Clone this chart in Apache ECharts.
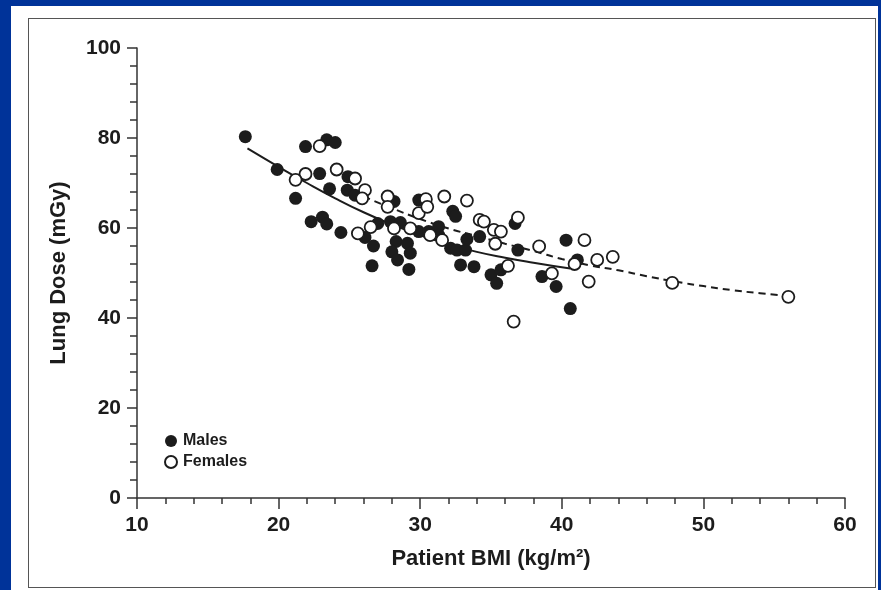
<!DOCTYPE html>
<html>
<head>
<meta charset="utf-8">
<script src="https://cdn.jsdelivr.net/npm/echarts@6/dist/echarts.min.js"></script>
<style>
  html, body { margin: 0; padding: 0; background: #003399; }
  #sheet { position: absolute; left: 11px; top: 6px; width: 867px; height: 584px; background: #fff; }
  #frame { position: absolute; left: 28px; top: 18px; width: 846px; height: 568px; border: 1.5px solid #555; }
  #main { position: absolute; left: 0; top: 0; width: 881px; height: 590px; }
</style>
</head>
<body>
<div id="sheet"></div>
<div id="frame"></div>
<div id="main"></div>
<script>
// BMI (kg/m2) vs lung dose (mGy)
const males = [
  [17.65, 80.3], [21.9, 78.1], [23.4, 79.6], [24.0, 79.0], [19.9, 73.0],
  [22.9, 72.1], [21.2, 66.6], [23.6, 68.7], [24.9, 71.4], [24.85, 68.4],
  [25.4, 67.3], [22.3, 61.4], [23.1, 62.4], [23.4, 60.9], [24.4, 59.0],
  [26.1, 57.9], [27.0, 61.0], [26.7, 56.0], [26.6, 51.6], [28.15, 65.9],
  [29.9, 66.2], [32.3, 63.7], [32.5, 62.6], [36.7, 61.0], [27.9, 61.4],
  [28.6, 61.2], [28.3, 57.0], [29.1, 56.6], [28.0, 54.7], [28.4, 52.9],
  [29.3, 54.4], [29.2, 50.8], [29.9, 59.2], [30.6, 59.2], [31.3, 60.3],
  [31.3, 58.4], [32.15, 55.5], [32.6, 55.1], [33.2, 55.1], [33.3, 57.5],
  [34.2, 58.1], [32.85, 51.8], [33.8, 51.4], [35.0, 49.6], [35.4, 47.7],
  [35.7, 50.7], [36.9, 55.1], [40.3, 57.3], [41.1, 52.9], [38.6, 49.2],
  [39.6, 47.0], [40.6, 42.1]
];
const females = [
  [22.9, 78.2], [21.9, 72.0], [21.2, 70.7], [24.1, 73.0], [25.4, 71.0],
  [26.1, 68.4], [25.9, 66.6], [25.6, 58.8], [26.5, 60.2], [27.7, 67.0],
  [27.7, 64.7], [30.4, 66.4], [31.7, 67.0], [33.3, 66.1], [29.9, 63.3],
  [30.5, 64.7], [34.2, 61.8], [34.5, 61.4], [35.2, 59.6], [35.7, 59.2],
  [36.9, 62.3], [28.15, 59.9], [29.3, 59.9], [30.7, 58.4], [31.55, 57.3],
  [36.2, 51.6], [36.6, 39.2], [38.4, 55.9], [41.6, 57.3], [40.9, 52.0],
  [42.5, 52.9], [43.6, 53.6], [39.3, 49.9], [41.9, 48.1], [47.8, 47.8],
  [56.0, 44.7], [35.3, 56.5]
];
// fitted curves as drawn in the figure
const maleFit = [
  [17.8, 77.7], [20, 73.6], [22, 70.0], [24, 66.6], [26, 63.5], [28, 60.8],
  [30, 58.4], [32, 56.4], [34, 54.7], [36, 53.4], [38, 52.3], [40.6, 51.0]
];
const femaleFit = [
  [26, 67.0], [28, 64.4], [30, 62.0], [32, 59.9], [34, 58.2], [36, 56.5],
  [38, 54.9], [40, 53.1], [42, 51.7], [44, 50.6], [46, 49.3], [48, 48.1],
  [50, 47.1], [52, 46.2], [54, 45.5], [56, 44.9]
];
const xTicks = { min: 10, max: 60, step: 10 };
const yTicks = { min: 0, max: 100, step: 20 };

const ink = '#1c1c1c';
const font = '"Liberation Sans", Arial, sans-serif';

let chart = echarts.init(document.getElementById('main'), null, { renderer: 'canvas' });

const option = {
  animation: false,
  grid: { left: 137, right: 36, top: 48, bottom: 92 },
  legend: {
    orient: 'vertical',
    left: 159,
    top: 428,
    itemWidth: 12,
    itemHeight: 12,
    itemGap: 5,
    textStyle: { fontFamily: font, fontWeight: 'bold', fontSize: 16, color: ink, lineHeight: 16, padding: [0, 0, 0, 1] },
    data: ['Males', 'Females']
  },
  xAxis: {
    type: 'value',
    min: xTicks.min,
    max: xTicks.max,
    interval: xTicks.step,
    name: 'Patient BMI (kg/m²)',
    nameLocation: 'middle',
    nameGap: 50,
    nameTextStyle: { fontFamily: font, fontWeight: 'bold', fontSize: 22, color: ink },
    axisLine: { lineStyle: { color: '#333', width: 1.5 } },
    axisTick: { length: 11, lineStyle: { color: '#333', width: 1.5 } },
    minorTick: { show: true, splitNumber: 5, length: 6, lineStyle: { color: '#333', width: 1.5 } },
    axisLabel: { margin: 17, fontFamily: font, fontWeight: 'bold', fontSize: 21, color: ink },
    splitLine: { show: false }
  },
  yAxis: {
    type: 'value',
    min: yTicks.min,
    max: yTicks.max,
    interval: yTicks.step,
    name: 'Lung Dose (mGy)',
    nameLocation: 'middle',
    nameGap: 67,
    nameTextStyle: { fontFamily: font, fontWeight: 'bold', fontSize: 22, color: ink },
    axisLine: { show: true, lineStyle: { color: '#333', width: 1.5 } },
    axisTick: { show: true, length: 10, lineStyle: { color: '#333', width: 1.5 } },
    minorTick: { show: true, splitNumber: 5, length: 7, lineStyle: { color: '#333', width: 1.5 } },
    axisLabel: { margin: 16, fontFamily: font, fontWeight: 'bold', fontSize: 21, color: ink },
    splitLine: { show: false }
  },
  series: [
    {
      name: 'male fit',
      type: 'line',
      data: maleFit,
      smooth: true,
      symbol: 'none',
      lineStyle: { color: ink, width: 2 },
      z: 1
    },
    {
      name: 'female fit',
      type: 'line',
      data: femaleFit,
      smooth: true,
      symbol: 'none',
      lineStyle: { color: ink, width: 2, type: [7, 5] },
      z: 1
    },
    {
      name: 'Males',
      type: 'scatter',
      data: males,
      symbol: 'circle',
      symbolSize: 13,
      itemStyle: { color: ink, borderColor: ink, borderWidth: 0, opacity: 1 },
      z: 2
    },
    {
      name: 'Females',
      type: 'scatter',
      data: females,
      symbol: 'circle',
      symbolSize: 12,
      itemStyle: { color: '#fff', borderColor: ink, borderWidth: 1.8, opacity: 1 },
      z: 3
    }
  ]
};

chart.setOption(option);
</script>
</body>
</html>
